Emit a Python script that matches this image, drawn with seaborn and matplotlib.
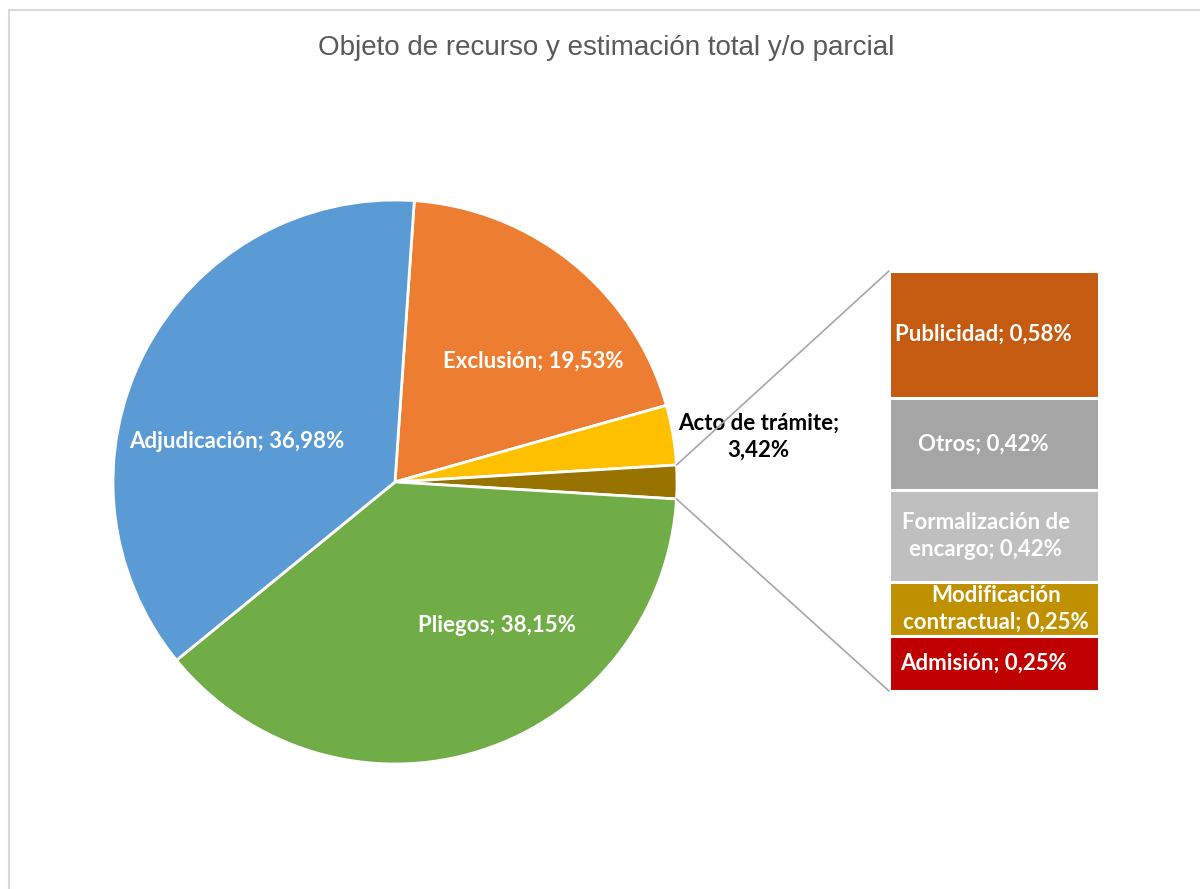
import numpy as np
import matplotlib
matplotlib.use('Agg')
import matplotlib.pyplot as plt
import seaborn as sns
from matplotlib.patches import ConnectionPatch
from matplotlib.lines import Line2D

sns.set_theme(style='white')
plt.rcParams['font.family'] = ['Lato', 'DejaVu Sans']

# Data: main pie (the "Otros" slice is the sum of the bar breakdown)
pie_labels = ['Exclusión', 'Acto de trámite', 'Otros', 'Pliegos', 'Adjudicación']
bar_labels = ['Publicidad', 'Otros', 'Formalización de\nencargo', 'Modificación\ncontractual', 'Admisión']
bar_values = [0.58, 0.42, 0.42, 0.25, 0.25]
pie_values = [19.53, 3.42, sum(bar_values), 38.15, 36.98]

pie_colors = ['#ED7D31', '#FFC000', '#997300', '#70AD47', '#5B9BD5']
bar_colors = ['#C55A11', '#A5A5A5', '#BFBFBF', '#BF9000', '#C00000']

# label positions inside the pie (axes data units, radius = 1)
pie_label_pos = {'Exclusión': (0.49, 0.43), 'Acto de trámite': (1.29, 0.16),
                 'Pliegos': (0.36, -0.51), 'Adjudicación': (-0.56, 0.145)}
# horizontal label offsets in the bar (bar spans -0.5..0.5)
bar_label_x = [-0.05, -0.05, -0.04, 0.01, -0.05]


def pct(v):
    return f"{v:.2f}".replace('.', ',') + '%'


fig = plt.figure(figsize=(12, 8.89), dpi=100)

# pie axes: centre (395, 482) px, radius 282 px
ax = fig.add_axes([(395 - 282) / 1200, (889 - 482 - 282) / 889, 564 / 1200, 564 / 889])
start = 3.6 * (pie_values[0] + pie_values[1] + pie_values[2] / 2)
wedges, _ = ax.pie(pie_values, colors=pie_colors, startangle=start, counterclock=False,
                   radius=1, wedgeprops=dict(edgecolor='white', linewidth=2))
ax.set_xlim(-1, 1)
ax.set_ylim(-1, 1)
ax.set_aspect('auto')
ax.axis('off')

for name, val in zip(pie_labels, pie_values):
    if name not in pie_label_pos:
        continue
    x, y = pie_label_pos[name]
    if name == 'Acto de trámite':
        ax.text(x, y, f"{name};\n{pct(val)}", ha='center', va='center', fontsize=16,
                fontweight='bold', color='black', linespacing=1.35)
    else:
        ax.text(x, y, f"{name}; {pct(val)}", ha='center', va='center', fontsize=16,
                fontweight='bold', color='white')

# stacked bar: x 889-1099 px, y 271-691 px
ax2 = fig.add_axes([889 / 1200, (889 - 691) / 889, 210 / 1200, 420 / 889])
total = sum(bar_values)
bottoms = total - np.cumsum(bar_values)
ax2.bar(np.zeros(len(bar_values)), bar_values, bottom=bottoms, width=1,
        color=bar_colors, edgecolor='white', linewidth=2.2)
ax2.set_xlim(-0.5, 0.5)
ax2.set_ylim(0, total)
ax2.axis('off')
for name, val, b, lx in zip(bar_labels, bar_values, bottoms, bar_label_x):
    ax2.text(lx, b + val / 2, f"{name}; {pct(val)}", ha='center', va='center',
             fontsize=16, fontweight='bold', color='white', linespacing=1.35,
             clip_on=False)

# connector lines from the small slice to the bar
half = np.deg2rad(3.6 * pie_values[2] / 2)
for sgn, yb in [(1, total), (-1, 0)]:
    con = ConnectionPatch(xyA=(np.cos(half), sgn * np.sin(half)), coordsA=ax.transData,
                          xyB=(-0.5, yb), coordsB=ax2.transData,
                          color='#A6A6A6', linewidth=1.2)
    fig.add_artist(con)

# title and chart border
fig.text(606 / 1200, 1 - 48 / 889, 'Objeto de recurso y estimación total y/o parcial',
         ha='center', va='center', fontsize=20, color='#595959', family='Liberation Sans')
fig.add_artist(Line2D([8.5 / 1200, 8.5 / 1200], [0, 1 - 9.5 / 889], transform=fig.transFigure,
                      color='#D9D9D9', linewidth=1.5))
fig.add_artist(Line2D([8.5 / 1200, 1], [1 - 9.5 / 889, 1 - 9.5 / 889], transform=fig.transFigure,
                      color='#D9D9D9', linewidth=1.5))

fig.savefig('out.png', dpi=100, facecolor='white')
